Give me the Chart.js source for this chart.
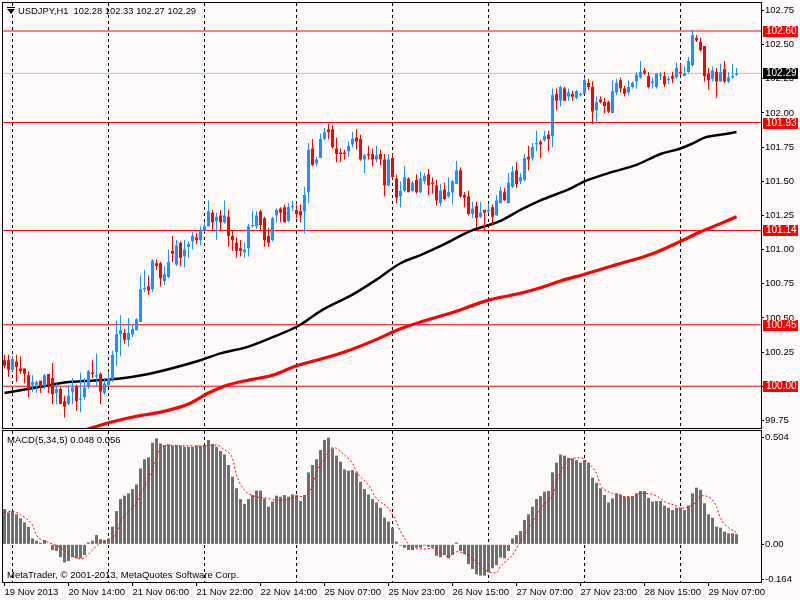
<!DOCTYPE html>
<html><head><meta charset="utf-8"><title>USDJPY,H1</title>
<script src="https://cdn.jsdelivr.net/npm/chart.js"></script>
<style>
html,body{margin:0;padding:0;background:#FFFAFA;}
body{position:relative;width:800px;height:600px;overflow:hidden;font-family:"Liberation Sans",Arial,sans-serif;}
canvas{position:absolute;left:0;}
#c1{top:0}
#c2{top:429px}
.lbl{position:absolute;white-space:pre;color:#000;font-size:9.5px;line-height:11px;}
.tri{position:absolute;left:7px;top:9px;width:0;height:0;border-left:4px solid transparent;border-right:4px solid transparent;border-top:5px solid #000;}
.tribar{position:absolute;left:7px;top:7px;width:8px;height:1px;background:#000;}
</style></head>
<body>
<canvas id="c1" width="800" height="429"></canvas>
<canvas id="c2" width="800" height="171"></canvas>
<div class="tribar"></div><div class="tri"></div>
<div class="lbl" id="title" style="left:18px;top:5px;font-size:9.4px"></div>
<div class="lbl" id="macdTitle" style="left:7px;top:434px"></div>
<div class="lbl" style="left:7px;top:569px">MetaTrader, © 2001-2013, MetaQuotes Software Corp.</div>
<script>
const symbol = 'USDJPY,H1';
const open = [100.19,100.19,100.12,100.18,100.13,100.13,100.08,100.01,100.01,100.04,
100.00,100.09,100.06,99.95,99.98,99.89,99.87,99.96,100.00,99.90,
99.92,100.00,100.10,100.07,100.09,99.95,100.01,100.05,100.25,100.38,
100.39,100.34,100.38,100.41,100.47,100.71,100.73,100.71,100.90,100.90,
100.77,100.80,100.99,100.89,101.05,100.95,101.02,101.06,101.09,101.07,
101.14,101.17,101.27,101.21,101.25,101.20,101.24,101.10,101.05,101.01,
100.98,101.01,101.17,101.17,101.28,101.23,101.10,101.07,101.25,101.30,
101.31,101.21,101.31,101.29,101.28,101.28,101.42,101.74,101.63,101.67,
101.81,101.88,101.88,101.74,101.71,101.71,101.72,101.77,101.82,101.81,
101.66,101.70,101.70,101.66,101.70,101.66,101.47,101.67,101.52,101.39,
101.43,101.52,101.43,101.51,101.42,101.50,101.55,101.49,101.47,101.34,
101.44,101.39,101.42,101.48,101.58,101.40,101.39,101.26,101.32,101.24,
101.29,101.28,101.31,101.25,101.34,101.42,101.34,101.46,101.58,101.50,
101.51,101.68,101.67,101.77,101.79,101.80,101.84,101.83,102.14,102.09,
102.18,102.12,102.14,102.11,102.13,102.14,102.22,102.19,102.02,102.10,
102.08,102.08,102.00,102.15,102.24,102.18,102.15,102.19,102.23,102.26,
102.31,102.27,102.22,102.19,102.27,102.27,102.24,102.27,102.26,102.30,
102.27,102.30,102.35,102.55,102.52,102.49,102.29,102.25,102.30,102.23,
102.32,102.23,102.26,102.28];
const high = [100.23,100.23,100.22,100.23,100.22,100.13,100.11,100.08,100.04,100.04,
100.09,100.09,100.17,100.02,99.99,99.93,100.00,100.06,100.01,100.10,
100.06,100.12,100.19,100.24,100.10,100.06,100.10,100.26,100.48,100.52,
100.42,100.50,100.45,100.50,100.81,100.85,100.81,100.93,100.93,100.91,
100.88,101.00,101.10,101.07,101.06,101.07,101.06,101.13,101.12,101.17,
101.20,101.36,101.29,101.27,101.29,101.36,101.29,101.14,101.09,101.07,
101.05,101.19,101.28,101.28,101.29,101.24,101.16,101.24,101.30,101.31,
101.33,101.34,101.36,101.33,101.33,101.46,101.78,101.81,101.68,101.85,
101.89,101.92,101.91,101.82,101.74,101.73,101.79,101.86,101.88,101.84,
101.70,101.76,101.74,101.76,101.73,101.70,101.70,101.70,101.55,101.50,
101.61,101.53,101.50,101.55,101.57,101.56,101.59,101.53,101.51,101.48,
101.49,101.53,101.51,101.65,101.60,101.42,101.43,101.35,101.35,101.35,
101.29,101.33,101.33,101.40,101.46,101.45,101.56,101.61,101.64,101.56,
101.70,101.76,101.78,101.87,101.80,101.87,101.87,102.18,102.18,102.20,
102.19,102.18,102.16,102.17,102.15,102.26,102.25,102.23,102.12,102.12,
102.11,102.09,102.24,102.25,102.26,102.20,102.24,102.23,102.30,102.38,
102.33,102.30,102.26,102.29,102.30,102.30,102.27,102.30,102.37,102.36,
102.34,102.41,102.61,102.57,102.55,102.49,102.33,102.34,102.33,102.36,
102.38,102.30,102.36,102.33];
const low = [100.13,100.07,100.11,100.03,100.09,100.02,99.92,99.96,99.95,99.95,
99.98,99.95,99.87,99.87,99.87,99.77,99.86,99.87,99.82,99.81,
99.90,99.98,100.06,100.00,99.87,99.94,100.00,100.03,100.15,100.22,
100.31,100.29,100.36,100.41,100.47,100.69,100.67,100.69,100.85,100.73,
100.74,100.79,100.91,100.88,100.88,100.87,100.94,101.00,101.04,101.03,
101.13,101.17,101.14,101.07,101.14,101.19,101.02,100.99,100.94,100.95,
100.94,100.95,101.16,101.15,101.14,101.02,101.02,101.06,101.20,101.20,
101.20,101.20,101.28,101.23,101.20,101.12,101.34,101.61,101.61,101.67,
101.80,101.81,101.74,101.64,101.64,101.66,101.68,101.75,101.73,101.65,
101.56,101.66,101.61,101.64,101.62,101.39,101.46,101.52,101.34,101.31,
101.42,101.42,101.42,101.41,101.41,101.48,101.40,101.41,101.32,101.32,
101.36,101.38,101.33,101.48,101.38,101.31,101.25,101.23,101.16,101.23,
101.14,101.27,101.18,101.25,101.34,101.36,101.34,101.45,101.45,101.48,
101.50,101.58,101.65,101.72,101.67,101.79,101.72,101.75,102.02,102.05,
102.09,102.09,102.09,102.10,102.12,102.14,102.17,101.92,101.94,102.07,
102.00,102.00,102.00,102.13,102.15,102.12,102.13,102.18,102.18,102.25,
102.28,102.18,102.18,102.18,102.24,102.19,102.21,102.22,102.25,102.28,
102.27,102.29,102.34,102.52,102.45,102.23,102.17,102.23,102.11,102.23,
102.22,102.22,102.25,102.27];
const close = [100.15,100.12,100.20,100.14,100.11,100.09,99.98,100.03,100.03,100.00,
100.08,100.01,99.94,99.98,99.87,99.85,99.93,99.99,99.89,99.91,
99.99,100.11,100.09,100.08,99.96,100.02,100.06,100.23,100.38,100.41,
100.34,100.39,100.42,100.49,100.71,100.72,100.70,100.92,100.88,100.79,
100.82,100.91,100.97,101.03,100.94,101.00,101.04,101.10,101.07,101.14,
101.17,101.28,101.20,101.24,101.20,101.25,101.10,101.07,100.99,100.99,
101.00,101.17,101.18,101.25,101.18,101.07,101.05,101.23,101.29,101.27,
101.20,101.31,101.32,101.26,101.25,101.40,101.73,101.62,101.66,101.81,
101.86,101.86,101.75,101.70,101.70,101.70,101.76,101.81,101.79,101.66,
101.69,101.69,101.66,101.69,101.66,101.47,101.66,101.53,101.38,101.43,
101.53,101.42,101.49,101.42,101.52,101.54,101.47,101.48,101.36,101.43,
101.37,101.42,101.50,101.58,101.39,101.38,101.26,101.30,101.23,101.27,
101.27,101.29,101.24,101.36,101.43,101.36,101.49,101.57,101.48,101.53,
101.67,101.66,101.75,101.78,101.77,101.83,101.81,102.13,102.09,102.19,
102.09,102.15,102.12,102.16,102.14,102.24,102.19,102.01,102.08,102.08,
102.05,102.01,102.16,102.22,102.18,102.14,102.19,102.22,102.28,102.30,
102.29,102.19,102.23,102.29,102.28,102.21,102.25,102.25,102.33,102.29,
102.29,102.38,102.57,102.53,102.46,102.27,102.24,102.31,102.23,102.30,
102.23,102.26,102.27,102.29];

const maBlackBars = [0,8,16,27,36,49,54,61,68,74,79,87,93,99,104,110,116,124,129,134,141,145,151,158,164,169,173,175,179,183];
const maBlack = [99.95,99.99,100.03,100.05,100.09,100.19,100.24,100.29,100.37,100.45,100.55,100.67,100.78,100.90,100.96,101.04,101.13,101.21,101.29,101.36,101.44,101.50,101.56,101.62,101.70,101.74,101.79,101.82,101.84,101.86];
const maRedBars = [19,27,33,39,46,51,56,62,67,73,78,85,92,99,104,112,121,129,134,139,145,153,162,169,174,179,183];
const maRed = [99.67,99.74,99.78,99.81,99.87,99.95,100.01,100.05,100.08,100.15,100.19,100.25,100.33,100.42,100.47,100.54,100.63,100.68,100.72,100.77,100.82,100.89,100.97,101.06,101.13,101.19,101.24];

const macd = [0.167,0.151,0.157,0.142,0.123,0.104,0.083,0.028,0.017,0.008,
0.020,0.002,-0.027,-0.031,-0.061,-0.085,-0.079,-0.061,-0.066,-0.066,
-0.050,0.009,0.017,0.044,0.024,0.020,0.028,0.083,0.157,0.214,
0.230,0.241,0.261,0.283,0.359,0.402,0.411,0.480,0.501,0.477,
0.469,0.472,0.466,0.469,0.466,0.461,0.461,0.461,0.466,0.465,
0.469,0.493,0.474,0.461,0.441,0.425,0.375,0.320,0.265,0.214,
0.191,0.214,0.233,0.254,0.254,0.217,0.178,0.202,0.230,0.225,
0.233,0.225,0.236,0.233,0.205,0.233,0.340,0.375,0.402,0.446,
0.493,0.504,0.454,0.419,0.391,0.354,0.348,0.351,0.339,0.296,
0.261,0.236,0.214,0.198,0.173,0.126,0.107,0.079,0.013,-0.006,
-0.016,-0.027,-0.027,-0.016,-0.016,-0.006,-0.011,-0.016,-0.054,-0.061,
-0.050,-0.066,-0.050,0.008,-0.031,-0.046,-0.094,-0.117,-0.142,-0.148,
-0.148,-0.132,-0.113,-0.098,-0.063,-0.066,-0.031,0.028,0.044,0.063,
0.115,0.142,0.178,0.214,0.228,0.249,0.252,0.340,0.386,0.425,
0.419,0.409,0.406,0.398,0.386,0.398,0.386,0.315,0.291,0.265,
0.233,0.198,0.217,0.241,0.236,0.225,0.225,0.228,0.241,0.252,
0.252,0.220,0.202,0.205,0.205,0.183,0.173,0.162,0.173,0.173,
0.162,0.183,0.241,0.268,0.257,0.194,0.142,0.126,0.083,0.079,
0.060,0.052,0.052,0.048];
const signalBars = [0,2,4,7,8,11,13,16,19,20,22,24,26,28,29,31,33,34,36,38,39,41,44,49,53,55,57,58,60,63,65,68,70,73,75,77,78,80,82,83,85,87,88,91,93,96,98,99,102,104,107,109,111,113,115,118,120,123,124,127,129,132,134,137,139,142,144,146,148,149,152,154,157,159,163,165,168,169,171,173,174,176,178,179,181,183];
const signal = [0.151,0.157,0.139,0.091,0.044,0.009,-0.006,-0.043,-0.069,-0.063,-0.027,0.009,0.020,0.052,0.107,0.154,0.198,0.241,0.304,0.406,0.457,0.469,0.466,0.465,0.469,0.446,0.406,0.328,0.257,0.224,0.220,0.209,0.209,0.225,0.230,0.280,0.343,0.406,0.457,0.454,0.422,0.383,0.343,0.280,0.217,0.170,0.107,0.063,-0.016,-0.022,-0.019,-0.038,-0.058,-0.035,-0.043,-0.082,-0.120,-0.135,-0.104,-0.050,0.013,0.107,0.170,0.233,0.343,0.406,0.409,0.383,0.335,0.280,0.241,0.228,0.225,0.241,0.230,0.202,0.181,0.170,0.178,0.202,0.230,0.225,0.178,0.123,0.079,0.056];

const levelPrices = [102.60, 101.93, 101.14, 100.45, 100.00];
const currentPrice = 102.29;
const priceTicks = [99.75,100.00,100.25,100.50,100.75,101.00,101.25,101.50,101.75,102.00,102.25,102.50,102.75];
const macdTicks = [0.504, 0.00, -0.164];
const macdTickLabels = ['0.504','0.00','-0.164'];
const dayBars = [2,26,50,73,97,121,145,169];
const dateBars = [0,16,32,48,64,80,96,112,128,144,160,176];
const dateLabels = ['19 Nov 2013','20 Nov 14:00','21 Nov 06:00','21 Nov 22:00','22 Nov 14:00','25 Nov 07:00','25 Nov 23:00','26 Nov 15:00','27 Nov 07:00','27 Nov 23:00','28 Nov 15:00','29 Nov 07:00'];

const X_MIN = -0.375, X_MAX = 189.125;
const BULL = '#1E90FF', BEAR = '#FF0000';
const FONT_FAMILY = '"Liberation Sans", Arial, sans-serif';
Chart.defaults.font.family = FONT_FAMILY;
Chart.defaults.font.size = 9.5;
Chart.defaults.color = '#000';

const last = open.length - 1;
document.getElementById('title').textContent =
  symbol + '  ' + [open[last], high[last], low[last], close[last]].map(v => v.toFixed(2)).join(' ');
document.getElementById('macdTitle').textContent =
  'MACD(5,34,5) ' + macd[last].toFixed(3) + ' ' + signal[signal.length - 1].toFixed(3);

const candleColors = open.map((o, i) => close[i] >= o ? BULL : BEAR);

const frame = {
  id: 'frame',
  afterDraw(chart) {
    const { ctx, chartArea: a } = chart;
    ctx.save();
    ctx.strokeStyle = '#000';
    ctx.lineWidth = 1;
    ctx.strokeRect(Math.round(a.left) - 0.5, Math.round(a.top) - 0.5,
      Math.round(a.right - a.left) + 1, Math.round(a.bottom - a.top) + 1);
    ctx.restore();
  }
};

const levelTags = {
  id: 'levelTags',
  afterDraw(chart) {
    const ys = chart.scales.y, ctx = chart.ctx;
    ctx.save();
    ctx.font = '10px ' + FONT_FAMILY;
    ctx.textBaseline = 'middle';
    const tags = levelPrices.map(p => ({ p, bg: '#FF0000' })).concat([{ p: currentPrice, bg: '#000000' }]);
    tags.forEach(t => {
      const py = Math.round(ys.getPixelForValue(t.p));
      ctx.fillStyle = t.bg;
      ctx.fillRect(763, py - 5, 35, 11);
      ctx.fillStyle = '#FFFFFF';
      ctx.fillText(t.p.toFixed(2), 766, py + 0.5);
    });
    ctx.restore();
  }
};

function gridAxis() {
  return {
    type: 'linear', min: X_MIN, max: X_MAX, offset: false,
    afterBuildTicks: s => { s.ticks = dayBars.map(v => ({ value: v })); },
    afterFit: s => { s.height = 0; s.paddingLeft = 0; s.paddingRight = 0; },
    ticks: { display: false },
    grid: { color: '#000', lineWidth: 1, drawTicks: false, drawOnChartArea: true, offset: false },
    border: { display: false, dash: [3, 3] }
  };
}

const levelDatasets = levelPrices.map(p => ({
  type: 'line', data: [{ x: X_MIN, y: p }, { x: X_MAX, y: p }],
  borderColor: '#FF0000', borderWidth: 1, pointRadius: 0, order: 6
}));

new Chart(document.getElementById('c1'), {
  type: 'bar',
  data: {
    datasets: [
      { type: 'bar', data: open.map((o, i) => ({ x: i, y: [Math.min(o, close[i]), Math.max(o, close[i])] })),
        backgroundColor: candleColors, barThickness: 3, minBarLength: 1, grouped: false, inflateAmount: 0, borderWidth: 0, order: 0 },
      { type: 'bar', data: open.map((o, i) => ({ x: i, y: [low[i], high[i]] })),
        backgroundColor: candleColors, barThickness: 1, grouped: false, inflateAmount: 0, borderWidth: 0, order: 1 },
      { type: 'line', data: maBlackBars.map((b, k) => ({ x: b, y: maBlack[k] })),
        borderColor: '#000000', borderWidth: 2.5, pointRadius: 0, cubicInterpolationMode: 'monotone', order: 3 },
      { type: 'line', data: maRedBars.map((b, k) => ({ x: b, y: maRed[k] })),
        borderColor: '#FF0000', borderWidth: 3.2, pointRadius: 0, cubicInterpolationMode: 'monotone', order: 4 },
      ...levelDatasets,
      { type: 'line', data: [{ x: X_MIN, y: currentPrice }, { x: X_MAX, y: currentPrice }],
        borderColor: '#C0C0C0', borderWidth: 1, pointRadius: 0, order: 7 }
    ]
  },
  options: {
    responsive: false, animation: false, events: [],
    layout: { padding: { left: 3, top: 3, right: 0, bottom: 1 } },
    plugins: { legend: { display: false }, tooltip: { enabled: false } },
    scales: {
      x: gridAxis(),
      y: {
        position: 'right', min: 99.694, max: 102.805,
        afterBuildTicks: s => { s.ticks = priceTicks.map(v => ({ value: v })); },
        afterFit: s => { s.width = 39; s.paddingTop = 0; s.paddingBottom = 0; },
        ticks: { callback: v => Number(v).toFixed(2), padding: 1, color: '#000' },
        grid: { drawOnChartArea: false, drawTicks: true, tickLength: 3, color: '#000' },
        border: { display: false }
      }
    }
  },
  plugins: [frame, levelTags]
});

new Chart(document.getElementById('c2'), {
  type: 'bar',
  data: {
    datasets: [
      { type: 'bar', data: macd.map((v, i) => ({ x: i, y: v })),
        backgroundColor: '#6E6E6E', barThickness: 3, grouped: false, inflateAmount: 0, borderWidth: 0, order: 1 },
      { type: 'line', data: signalBars.map((b, k) => ({ x: b, y: signal[k] })),
        borderColor: '#FF0000', borderWidth: 1, borderDash: [2, 2], pointRadius: 0, cubicInterpolationMode: 'monotone', order: 0 }
    ]
  },
  options: {
    responsive: false, animation: false, events: [],
    layout: { padding: { left: 3, top: 2, right: 0, bottom: 0 } },
    plugins: { legend: { display: false }, tooltip: { enabled: false } },
    scales: {
      x: gridAxis(),
      x2: {
        type: 'linear', position: 'bottom', min: X_MIN, max: X_MAX, offset: false,
        afterBuildTicks: s => { s.ticks = dateBars.map(v => ({ value: v })); },
        afterFit: s => { s.height = 18; s.paddingLeft = 0; s.paddingRight = 0; },
        ticks: { autoSkip: false, maxRotation: 0, minRotation: 0, align: 'start', padding: 1,
          callback: v => dateLabels[dateBars.indexOf(v)] },
        grid: { drawOnChartArea: false, drawTicks: true, tickLength: 4, color: '#000', offset: false },
        border: { display: false }
      },
      y: {
        position: 'right', min: -0.178, max: 0.5357,
        afterBuildTicks: s => { s.ticks = macdTicks.map(v => ({ value: v })); },
        afterFit: s => { s.width = 39; s.paddingTop = 0; s.paddingBottom = 0; },
        ticks: { callback: v => macdTickLabels[macdTicks.indexOf(v)], padding: 1, color: '#000' },
        grid: { drawOnChartArea: false, drawTicks: true, tickLength: 3, color: '#000' },
        border: { display: false }
      }
    }
  },
  plugins: [frame]
});
</script>
</body></html>
